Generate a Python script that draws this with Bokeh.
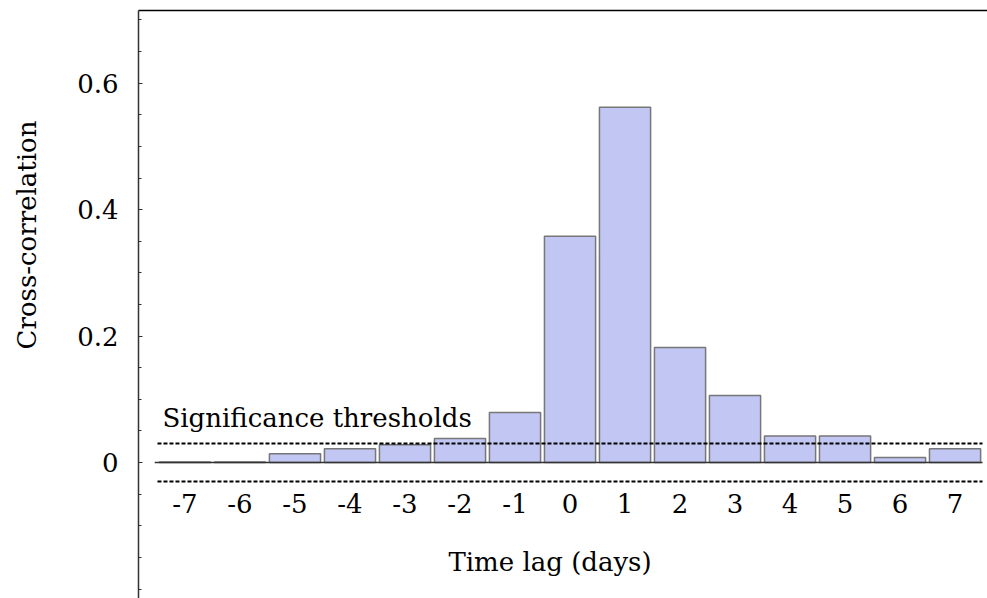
import numpy as np
from bokeh.plotting import figure
from bokeh.models import (Range1d, FixedTicker, LinearAxis, CustomJSTickFormatter,
                          ColumnDataSource, Title)
from bokeh.core.properties import value
from bokeh.embed import file_html
from bokeh.resources import INLINE

# ---- data ----
lags = [-7, -6, -5, -4, -3, -2, -1, 0, 1, 2, 3, 4, 5, 6, 7]
xcorr = [0.001, 0.001, 0.014, 0.022, 0.028, 0.038, 0.079, 0.358, 0.562,
         0.182, 0.106, 0.042, 0.042, 0.008, 0.022]
threshold = 0.03
tick_labels = [str(l) for l in lags]
y_ticks = [0, 0.2, 0.4, 0.6]
y_minor = [round(v, 2) for v in np.arange(-0.2, 0.701, 0.05)]
x_title = "Time lag (days)"
y_title = "Cross-correlation"
thr_title = "Significance thresholds"

FONT = "DejaVu Serif"
AXIS_COLOR = "#333333"

p = figure(width=987, height=598,
           x_range=Range1d(-7.845, 7.59), y_range=Range1d(-0.215, 0.715),
           output_backend="svg", toolbar_location=None,
           x_axis_location=None,
           min_border_left=138, min_border_right=0,
           min_border_top=10, min_border_bottom=0)
p.outline_line_color = None
p.xgrid.visible = False
p.ygrid.visible = False
p.background_fill_color = "white"
p.border_fill_color = "white"

# y axis
ya = p.yaxis[0]
ya.ticker = FixedTicker(ticks=y_ticks, minor_ticks=y_minor)
ya.formatter = CustomJSTickFormatter(code="return tick == 0 ? '0' : tick.toFixed(1)")
ya.major_tick_in = 4
ya.major_tick_out = 0
ya.minor_tick_in = 3
ya.minor_tick_out = 0
ya.major_tick_line_color = AXIS_COLOR
ya.minor_tick_line_color = AXIS_COLOR
ya.axis_line_color = AXIS_COLOR
ya.axis_line_width = 1.5
ya.major_label_text_font = FONT
ya.major_label_text_font_size = "26px"
ya.major_label_text_color = "black"
ya.major_label_standoff = 20

# spacing between tick labels and the y title
p.add_layout(Title(text=" ", standoff=17, text_font_size="2px"), "left")
# y axis title (shifted upward like the reference)
p.add_layout(Title(text=y_title, align="right", offset=110, standoff=20,
                   vertical_align="top",
                   text_font=FONT, text_font_size="26px", text_font_style="normal",
                   text_color="black"), "left")

# top border line as an empty axis
top = LinearAxis(ticker=FixedTicker(ticks=[]), major_label_text_font_size="0px",
                 major_tick_in=0, major_tick_out=0, minor_tick_in=0, minor_tick_out=0,
                 major_label_standoff=0, axis_line_color="black", axis_line_width=1.5)
p.add_layout(top, "above")

src = ColumnDataSource(dict(lag=lags, xcorr=xcorr, label=tick_labels))

p.vbar(x="lag", top="xcorr", bottom=0, width=0.93, source=src,
       fill_color="#c1c6f3", line_color="#777777", line_width=1.5)

x_lo = lags[0] - 0.5
x_hi = lags[-1] + 0.5

# baseline (x axis line at zero)
p.segment(x0=[x_lo - 0.05], x1=[x_hi], y0=[0], y1=[0],
          line_color=AXIS_COLOR, line_width=1.5)

# significance thresholds
p.segment(x0=[x_lo, x_lo], x1=[x_hi, x_hi], y0=[threshold, -threshold],
          y1=[threshold, -threshold], line_color="black", line_width=2,
          line_dash="4 2")

p.text(x=[x_lo], y=[threshold], text=[thr_title], x_offset=5, y_offset=-26,
       text_font=value(FONT), text_font_size="26px", text_color="black",
       text_align="left", text_baseline="alphabetic")

# x tick labels
p.text(x="lag", y=-threshold, text="label", source=src, y_offset=22,
       text_font=value(FONT), text_font_size="26px", text_color="black",
       text_align="center", text_baseline="alphabetic")

# x axis title
p.text(x=[0], y=[-threshold], text=[x_title], x_offset=-20, y_offset=80,
       text_font=value(FONT), text_font_size="26px", text_color="black",
       text_align="center", text_baseline="alphabetic")

open("out.html", "w").write(file_html(p, INLINE))
